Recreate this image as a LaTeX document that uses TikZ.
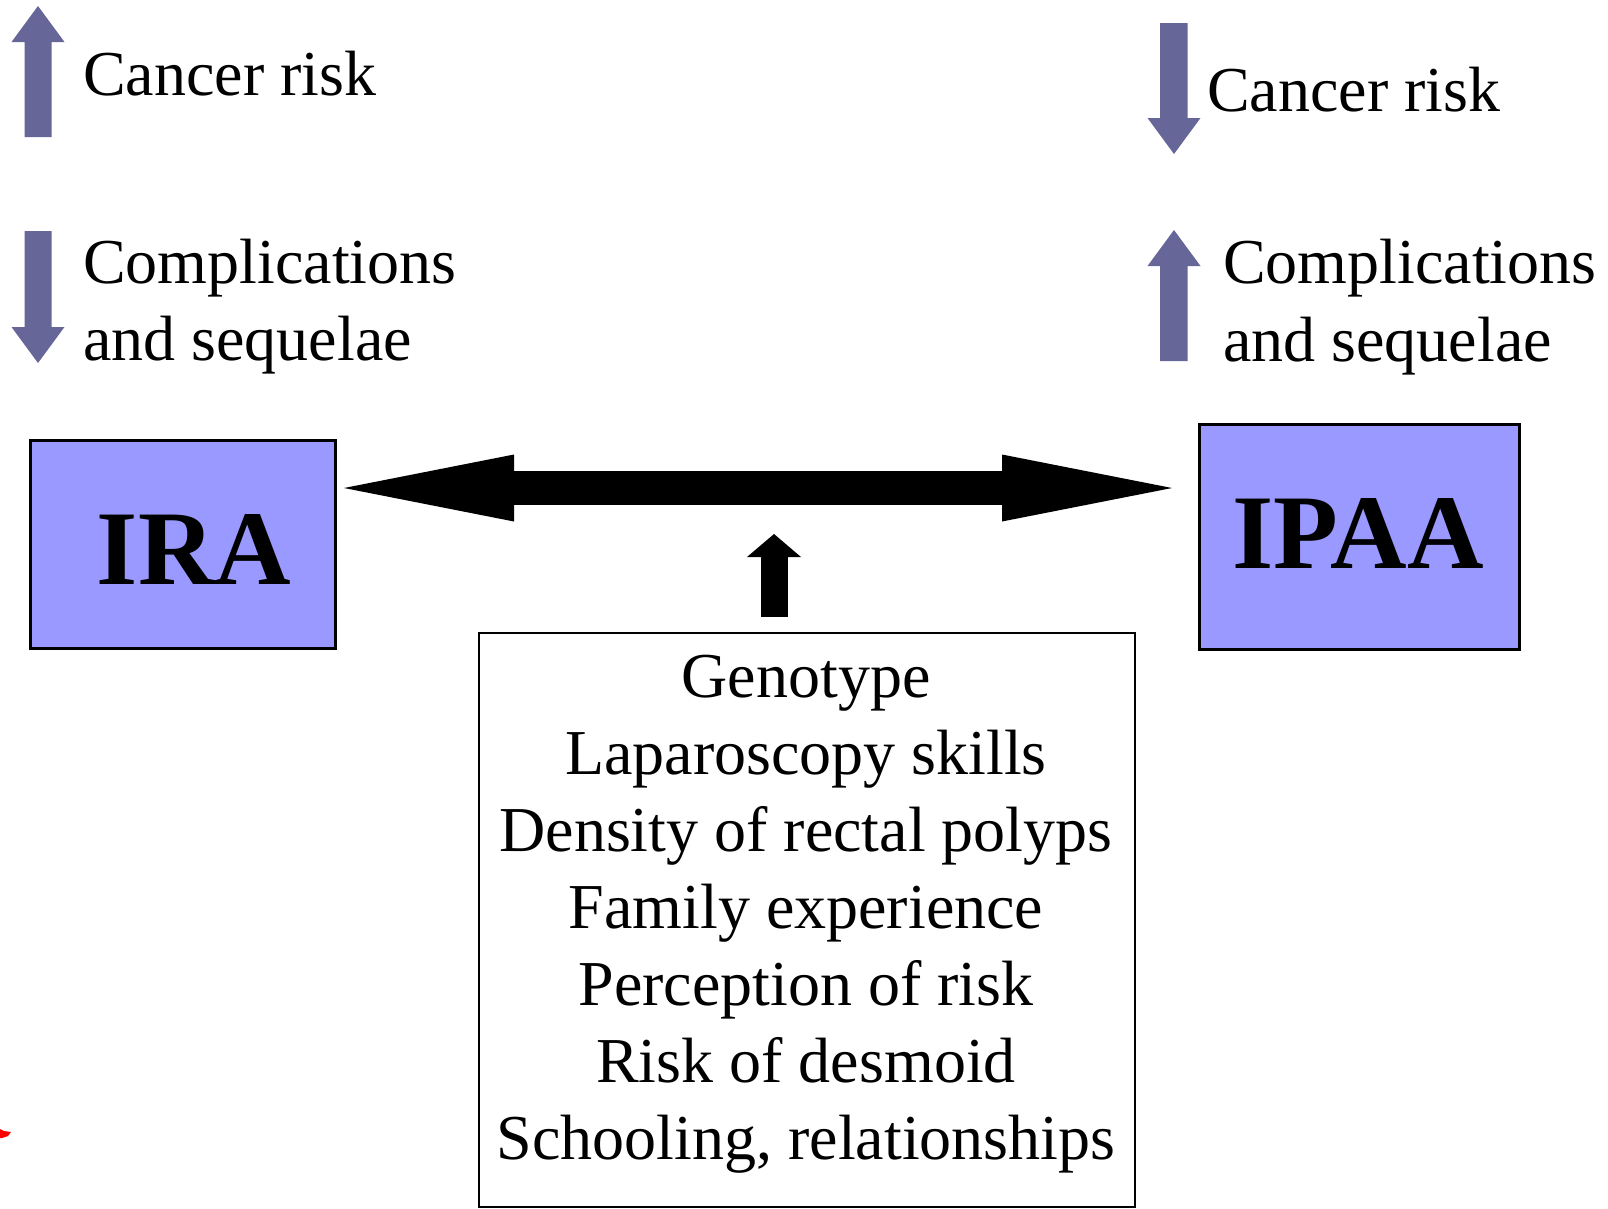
\documentclass[tikz,border=0pt]{standalone}
\usepackage{fontspec}
\setmainfont{Liberation Serif}
\usetikzlibrary{arrows.meta}
\definecolor{arrowpurple}{HTML}{666699}
\definecolor{boxblue}{HTML}{9999FF}
\begin{document}
\begin{tikzpicture}[x=1pt,y=-1pt,
  lbl/.style={inner sep=0pt, anchor=base west, font=\fontsize{64}{77}\selectfont},
  fline/.style={inner sep=0pt, anchor=base, font=\fontsize{64}{77}\selectfont},
  bigword/.style={inner sep=0pt, anchor=base, font=\fontsize{106}{127}\selectfont\bfseries},
  procbox/.style={draw=black, line width=2.5pt, fill=boxblue, inner sep=0pt, anchor=north west},
  factorbox/.style={draw=black, line width=2pt, fill=white, inner sep=0pt, anchor=north west},
  indicator/.style={fill=arrowpurple, draw=none},
  fatconnector/.style={draw=black, line width=34pt,
     {Triangle[length=170pt,width=67pt,line width=0pt]}-{Triangle[length=170pt,width=67pt,line width=0pt]}},
  influence/.style={draw=black, line width=27pt,
     -{Triangle[length=23pt,width=54pt,line width=0pt]}}
]
\useasboundingbox[fill=white] (0,0) rectangle (1608,1208);

% indicator arrows, left
\fill[indicator] (24.5,137) -- (24.5,42) -- (11.5,42) -- (38,6) -- (64.5,42) -- (51.5,42) -- (51.5,137) -- cycle;
\fill[indicator] (24.5,231) -- (51.5,231) -- (51.5,327) -- (64.5,327) -- (38,363) -- (11.5,327) -- (24.5,327) -- cycle;
% indicator arrows, right
\fill[indicator] (1160,23) -- (1187.5,23) -- (1187.5,118) -- (1200.5,118) -- (1174,154) -- (1147.5,118) -- (1160,118) -- cycle;
\fill[indicator] (1160,361) -- (1160,266) -- (1147.5,266) -- (1174,230) -- (1200.5,266) -- (1187.5,266) -- (1187.5,361) -- cycle;

% left labels
\node[lbl] (lcancer) at (83,95) {Cancer risk};
\node[lbl] (lcomp1) at (83,283) {Complications};
\node[lbl] (lcomp2) at (83,360) {and sequelae};
% right labels
\node[lbl] (rcancer) at (1207,111) {Cancer risk};
\node[lbl] (rcomp1) at (1223,283) {Complications};
\node[lbl] (rcomp2) at (1223,361) {and sequelae};

% boxes
\node[procbox, minimum width=305pt, minimum height=208pt] (ira) at (29,439) {};
\node[bigword] (iratext) at (194,584) {IRA};
\node[procbox, minimum width=320pt, minimum height=225pt] (ipaa) at (1198,423) {};
\node[bigword] (ipaatext) at (1358,568) {IPAA};

\node[factorbox, minimum width=656pt, minimum height=574pt] (factors) at (478,632) {};
\node[fline] (f1) at (806,697) {Genotype};
\node[fline] (f2) at (806,774) {Laparoscopy skills};
\node[fline] (f3) at (806,851) {Density of rectal polyps};
\node[fline] (f4) at (806,928) {Family experience};
\node[fline] (f5) at (806,1005) {Perception of risk};
\node[fline] (f6) at (806,1082) {Risk of desmoid};
\node[fline] (f7) at (806,1159) {Schooling, relationships};

% connectors
\coordinate (dl) at (344,488);
\coordinate (dr) at (1172,488);
\draw[fatconnector] (dl) -- (dr);
\coordinate (sb) at (774,617);
\coordinate (st) at (774,534);
\draw[influence] (sb) -- (st);

% small red mark
\fill[red] (0,1129) -- (4,1131) -- (11,1132) -- (8,1136) -- (2,1138) -- (0,1138) -- cycle;
\end{tikzpicture}
\end{document}
